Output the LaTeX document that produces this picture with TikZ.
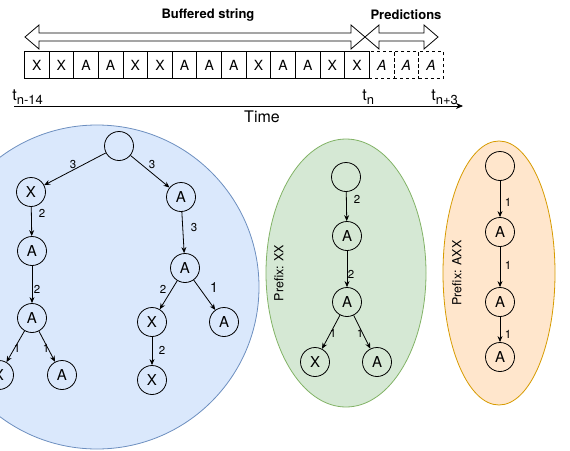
\documentclass[tikz,border=0pt]{standalone}
\usepackage{fontspec}
\setmainfont{TeX Gyre Heros}
\usetikzlibrary{arrows.meta}
\definecolor{bluefill}{HTML}{DAE8FC}\definecolor{blueline}{HTML}{6C8EBF}
\definecolor{greenfill}{HTML}{D5E8D4}\definecolor{greenline}{HTML}{82B366}
\definecolor{orangefill}{HTML}{FFE6CC}\definecolor{orangeline}{HTML}{D79B00}
\begin{document}
\begin{tikzpicture}[x=1pt,y=-1pt,line width=0.8pt,
  tnode/.style={circle,draw,fill=white,minimum size=29pt,inner sep=0pt,font=\fontsize{15}{17}\selectfont},
  bnode/.style={tnode,fill=none},
  cellbox/.style={draw,minimum width=24.64pt,minimum height=27pt,inner sep=0pt,anchor=west,font=\fontsize{14}{16}\selectfont},
  pcellbox/.style={cellbox,dashed,font=\fontsize{14}{16}\selectfont\itshape},
  edgearrow/.style={-{Stealth[length=6pt,width=5pt]}},
  lbl/.style={inner sep=0pt,font=\fontsize{11.5}{13}\selectfont},
  titlelbl/.style={inner sep=0pt,font=\fontsize{13}{15}\selectfont\bfseries},
  prefixlbl/.style={inner sep=0pt,rotate=90,font=\fontsize{12.5}{14}\selectfont},
  blockarrow/.style={draw,line width=0.8pt,fill=white}]
\useasboundingbox (0,0) rectangle (570,450);
\clip (0,0) rectangle (570,450);

% titles
\node[titlelbl] (tbuf) at (208,15) {Buffered string};
\node[titlelbl] (tpred) at (406,15) {Predictions};

% block arrows
\draw[blockarrow] (25,37) -- (39,25) -- (39,33) -- (351,33) -- (351,25) -- (365,37)
  -- (351,49) -- (351,41) -- (39,41) -- (39,49) -- cycle;
\draw[blockarrow] (365,37) -- (379,25) -- (379,33) -- (424,33) -- (424,25) -- (438,37)
  -- (424,49) -- (424,41) -- (379,41) -- (379,49) -- cycle;

% cells
\foreach \l [count=\i] in {X,X,A,A,X,X,A,A,A,X,A,A,X,X}
  \node[cellbox] (c\i) at ({24+(\i-1)*24.64},65) {\l};
\foreach \i in {1,2,3}
  \node[pcellbox] (p\i) at ({369+(\i-1)*24.64},65) {A};

% time axis
\coordinate (ax0) at (14,106);
\coordinate (ax1) at (463,106);
\draw[-{Stealth[length=7pt,width=6pt]}] (ax0) -- (ax1);
\node[inner sep=0pt,anchor=base west,font=\fontsize{16}{18}\selectfont] (tl) at (12,100)
  {t\raisebox{-4pt}{\fontsize{13}{15}\selectfont n-14}};
\node[inner sep=0pt,anchor=base west,font=\fontsize{16}{18}\selectfont] (tn) at (362,100)
  {t\raisebox{-4pt}{\fontsize{13}{15}\selectfont n}};
\node[inner sep=0pt,anchor=base west,font=\fontsize{16}{18}\selectfont] (tn3) at (431,100)
  {t\raisebox{-4pt}{\fontsize{13}{15}\selectfont n+3}};
\node[inner sep=0pt,font=\fontsize{16}{18}\selectfont] (time) at (262,117) {Time};

% region shapes
\draw[blueline,fill=bluefill] (97,287) circle[radius=162];
\draw[greenline,fill=greenfill] (346,273) ellipse[x radius=80,y radius=134];
\draw[orangeline,fill=orangefill] (499,273) ellipse[x radius=56,y radius=132];

% blue tree
\node[bnode] (r0) at (119,146) {};
\node[bnode] (x1) at (31,192) {X};
\node[bnode] (a1) at (181,197) {A};
\node[bnode] (a2) at (32,251) {A};
\node[bnode] (a3) at (185,268) {A};
\node[bnode] (a4) at (32,318) {A};
\node[bnode] (x5) at (152,322) {X};
\node[bnode] (a5) at (224,322) {A};
\node[bnode] (x6) at (-1,375) {X};
\node[bnode] (a6) at (62,375) {A};
\node[bnode] (x7) at (152,380) {X};
\draw[edgearrow] (r0) -- (x1);
\draw[edgearrow] (r0) -- (a1);
\draw[edgearrow] (x1) -- (a2);
\draw[edgearrow] (a1) -- (a3);
\draw[edgearrow] (a2) -- (a4);
\draw[edgearrow] (a3) -- (x5);
\draw[edgearrow] (a3) -- (a5);
\draw[edgearrow] (a4) -- (x6);
\draw[edgearrow] (a4) -- (a6);
\draw[edgearrow] (x5) -- (x7);
\node[lbl] (l1) at (73,165) {3};
\node[lbl] (l2) at (152,165) {3};
\node[lbl] (l3) at (42,213) {2};
\node[lbl] (l4) at (194,228) {3};
\node[lbl] (l5) at (37,289) {2};
\node[lbl] (l6) at (163,289) {2};
\node[lbl,font=\fontsize{14}{16}\selectfont] (l7) at (214,288) {1};
\node[lbl] (l8) at (17,348) {1};
\node[lbl] (l9) at (46,348) {1};
\node[lbl] (l10) at (162,350) {2};

% green tree
\node[bnode] (g0) at (346,177) {};
\node[bnode] (g1) at (347,236) {A};
\node[bnode] (g2) at (347,302) {A};
\node[bnode] (g3) at (315,362) {X};
\node[bnode] (g4) at (377,362) {A};
\draw[edgearrow] (g0) -- (g1);
\draw[edgearrow] (g1) -- (g2);
\draw[edgearrow] (g2) -- (g3);
\draw[edgearrow] (g2) -- (g4);
\node[lbl] (gl1) at (357,199) {2};
\node[lbl] (gl2) at (351,274) {2};
\node[lbl] (gl3) at (333,333) {1};
\node[lbl] (gl4) at (360,333) {1};
\node[prefixlbl] (gp) at (279,273) {Prefix: XX};

% orange tree
\node[bnode] (o0) at (500,166) {};
\node[bnode] (o1) at (500,232) {A};
\node[bnode] (o2) at (500,302) {A};
\node[bnode] (o3) at (500,357) {A};
\draw[edgearrow] (o0) -- (o1);
\draw[edgearrow] (o1) -- (o2);
\draw[edgearrow] (o2) -- (o3);
\node[lbl] (ol1) at (508,202) {1};
\node[lbl] (ol2) at (508,265) {1};
\node[lbl] (ol3) at (508,334) {1};
\node[prefixlbl] (op) at (457,273) {Prefix: AXX};
\end{tikzpicture}
\end{document}
